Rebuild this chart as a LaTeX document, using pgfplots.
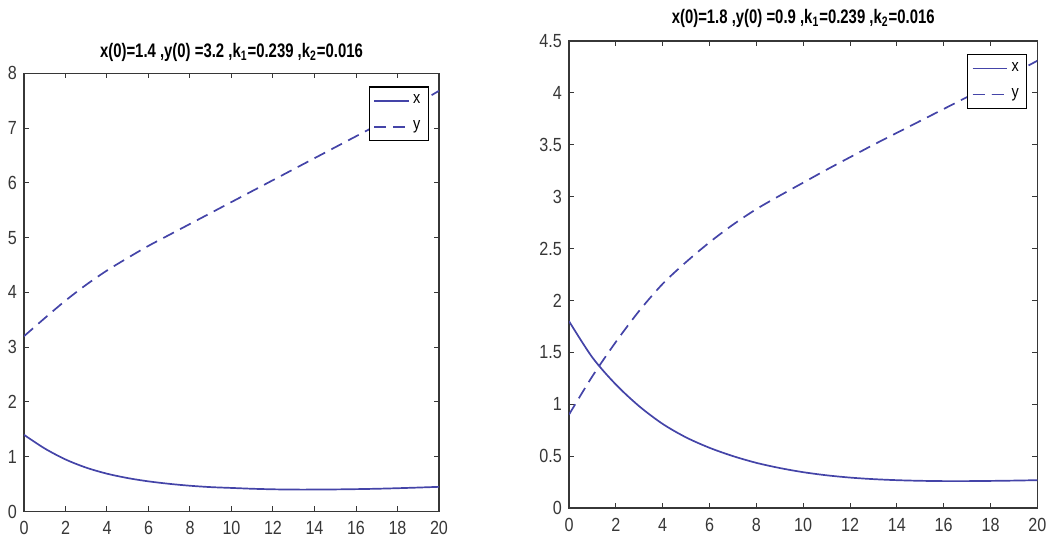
\documentclass[border=0pt]{standalone}
\usepackage{fontspec}
\setmainfont[FakeStretch=0.85]{Liberation Sans}
\newfontfamily\titlefont[FakeStretch=0.76]{Liberation Sans}
\usepackage{pgfplots}
\pgfplotsset{compat=1.18}
\definecolor{curve}{RGB}{68,68,168}
\definecolor{axgray}{RGB}{55,55,55}

\pgfplotsset{
  matlab/.style={
    scale only axis,
    xmin=0, xmax=20, xtick={0,2,...,20},
    ymin=0,
    axis line style={axgray, line width=0.6pt},
    tick style={axgray, line width=0.5pt},
    major tick length=2.5pt,
    tick align=inside,
    ticklabel style={font=\fontsize{9.5}{11}\selectfont, text=axgray},
    xticklabel style={yshift=-1.5pt},
    /pgf/number format/assume math mode=true,
    /pgf/number format/fixed,
    title style={font=\titlefont\bfseries\fontsize{9.8}{11}\selectfont, anchor=base, at={(0.5,1)}},
    legend style={font=\fontsize{8.5}{9}\selectfont, draw=black, line width=0.6pt,
      anchor=north east, at={(1,1)}, xshift=-5pt, yshift=-6.5pt,
      inner sep=2pt, row sep=3pt},
    legend cell align=left,
  },
  solidc/.style={curve, line width=0.85pt, smooth},
  dashc/.style={curve, line width=0.85pt, smooth, dash pattern=on 6pt off 3.5pt},
}

\begin{document}
\begin{tikzpicture}
\path[use as bounding box] (0,0) rectangle (525pt,272pt);

% left panel
\begin{axis}[matlab,
  at={(12pt,16.25pt)}, anchor=south west,
  width=207.5pt, height=219.1pt,
  ymax=8, ytick={0,1,...,8},
  title style={yshift=2pt},
  title={x(0)=1.4 ,y(0) =3.2 ,k\textsubscript{1}=0.239 ,k\textsubscript{2}=0.016}]
\addplot[solidc] coordinates {
  (0,1.40) (1,1.15) (2,0.95) (3,0.80) (4,0.69) (5,0.61) (6,0.55) (7,0.505)
  (8,0.47) (9,0.445) (10,0.43) (11,0.415) (12,0.405) (13,0.40) (14,0.40)
  (15,0.403) (16,0.408) (17,0.415) (18,0.425) (19,0.437) (20,0.45)};
\addlegendentry{x}
\addplot[dashc] coordinates {
  (0,3.20) (1,3.53) (2,3.85) (3,4.14) (4,4.40) (5,4.63) (6,4.85) (7,5.05)
  (8,5.25) (9,5.45) (10,5.65) (11,5.85) (12,6.05) (13,6.25) (14,6.45)
  (15,6.65) (16,6.85) (17,7.05) (18,7.25) (19,7.46) (20,7.68)};
\addlegendentry{y}
\end{axis}

% right panel
\begin{axis}[matlab,
  at={(284.5pt,18pt)}, anchor=south west,
  width=234.2pt, height=233.5pt,
  ymax=4.5, ytick={0,0.5,...,4.5},
  title style={yshift=2.9pt},
  title={x(0)=1.8 ,y(0) =0.9 ,k\textsubscript{1}=0.239 ,k\textsubscript{2}=0.016}]
\addplot[solidc] coordinates {
  (0,1.80) (1,1.45) (2,1.19) (3,0.98) (4,0.81) (5,0.68) (6,0.58) (7,0.50)
  (8,0.435) (9,0.385) (10,0.345) (11,0.315) (12,0.293) (13,0.278) (14,0.268)
  (15,0.262) (16,0.259) (17,0.259) (18,0.261) (19,0.264) (20,0.268)};
\addlegendentry{x}
\addplot[dashc] coordinates {
  (0,0.90) (1,1.27) (2,1.60) (3,1.90) (4,2.16) (5,2.37) (6,2.56) (7,2.73)
  (8,2.88) (9,3.01) (10,3.135) (11,3.26) (12,3.38) (13,3.50) (14,3.615)
  (15,3.73) (16,3.845) (17,3.96) (18,4.075) (19,4.19) (20,4.31)};
\addlegendentry{y}
\end{axis}
\end{tikzpicture}
\end{document}
